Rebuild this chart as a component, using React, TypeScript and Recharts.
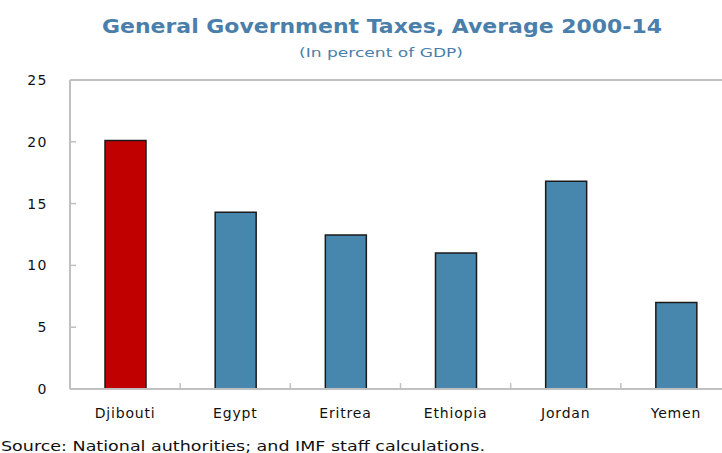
import React from "react";
import { BarChart, Bar, XAxis, YAxis, Cell, ReferenceLine } from "recharts";

const countries = ["Djibouti", "Egypt", "Eritrea", "Ethiopia", "Jordan", "Yemen"];
const taxes = [20.1, 14.3, 12.45, 11.0, 16.8, 7.0];
const yTicks = [0, 5, 10, 15, 20, 25];
const highlight = "Djibouti";

const titleText = "General Government Taxes, Average 2000-14";
const subtitleText = "(In percent of GDP)";
const sourceText = "Source: National authorities; and IMF staff calculations.";

const data = countries.map((c, i) => ({ name: c, value: taxes[i] }));

const RED = "#c00000";
const BLUE = "#4887ad";
const AXIS = "#c0c0c0";
const TITLE = "#4a7eab";
const FONT = "'DejaVu Sans', Verdana, sans-serif";

const TICK_SIZE = 6;
const TICK_MARGIN = 13;

const XTick = (props: any) => {
  const { x, y, payload } = props;
  const off = payload && typeof payload.offset === "number" ? payload.offset : 55;
  const axisY = y - TICK_MARGIN - TICK_SIZE;
  return (
    <g>
      <line x1={x + off} x2={x + off} y1={axisY} y2={axisY - 6} stroke={AXIS} strokeWidth={1.5} />
      <text
        x={x}
        y={y + 10}
        textAnchor="middle"
        fontFamily={FONT}
        fontSize={14}
        letterSpacing={0.8}
        fill="#111"
      >
        {payload.value}
      </text>
    </g>
  );
};

export default function App() {
  return (
    <div
      style={{
        position: "absolute",
        left: 0,
        top: 0,
        width: 722,
        height: 453,
        overflow: "hidden",
        background: "#fff",
      }}
    >
      <BarChart
        width={740}
        height={453}
        data={data}
        margin={{ top: 80, right: 9, left: 10, bottom: 34 }}
      >
        <ReferenceLine y={25} stroke={AXIS} strokeWidth={2} ifOverflow="visible" />
        <XAxis
          dataKey="name"
          height={30}
          axisLine={{ stroke: AXIS, strokeWidth: 2 }}
          tickLine={false}
          tickSize={TICK_SIZE}
          tickMargin={TICK_MARGIN}
          tick={<XTick />}
          interval={0}
        />
        <YAxis
          width={60}
          domain={[0, 25]}
          ticks={yTicks}
          interval={0}
          axisLine={{ stroke: AXIS, strokeWidth: 2 }}
          tickLine={{ stroke: AXIS, strokeWidth: 1.5 }}
          tickSize={-6}
          tickMargin={28}
          tick={{ fontFamily: FONT, fontSize: 14, fill: "#111", letterSpacing: 1.5 }}
        />
        <Bar dataKey="value" barSize={41} stroke="#1a1a1a" strokeWidth={1.5} isAnimationActive={false}>
          {data.map((d) => (
            <Cell key={d.name} fill={d.name === highlight ? RED : BLUE} />
          ))}
        </Bar>
      </BarChart>
      <svg
        width={722}
        height={453}
        style={{ position: "absolute", left: 0, top: 0, pointerEvents: "none" }}
      >
        <text
          x={382}
          y={33}
          textAnchor="middle"
          fontFamily={FONT}
          fontWeight="bold"
          fontSize={20}
          fill={TITLE}
          textLength={560}
          lengthAdjust="spacingAndGlyphs"
        >
          {titleText}
        </text>
        <text
          x={381}
          y={57}
          textAnchor="middle"
          fontFamily={FONT}
          fontSize={13}
          fill={TITLE}
          textLength={164}
          lengthAdjust="spacingAndGlyphs"
        >
          {subtitleText}
        </text>
        <text
          x={1}
          y={451}
          fontFamily={FONT}
          fontSize={14}
          fill="#111"
          textLength={484}
          lengthAdjust="spacingAndGlyphs"
        >
          {sourceText}
        </text>
      </svg>
    </div>
  );
}
